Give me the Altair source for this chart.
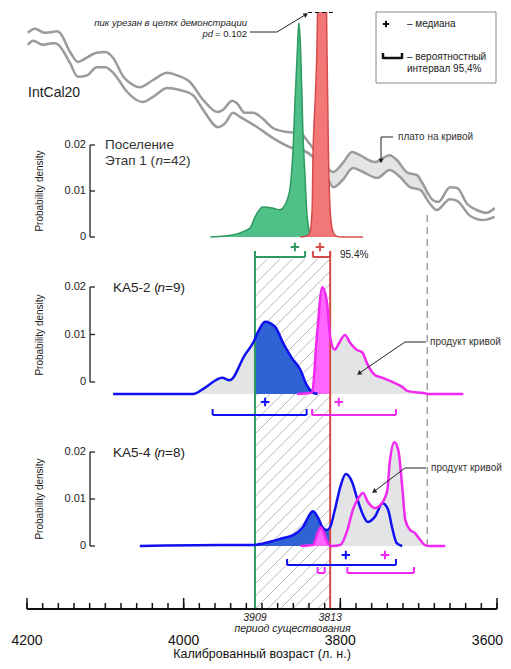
import altair as alt
import numpy as np
import pandas as pd

# ============================== DATA ==============================
# IntCal20 band: calendar age (cal BP) -> radiocarbon age (14C BP)
intcal_upper_year = [4199, 4190, 4177, 4167, 4162, 4158, 4145, 4135, 4129, 4111, 4100, 4090,
                     4077, 4065, 4056, 4039, 4021, 4009, 3992, 3975, 3957, 3950, 3938, 3932,
                     3922, 3911, 3900, 3886, 3868, 3851, 3843, 3835, 3822, 3809, 3797, 3785,
                     3775, 3756, 3737, 3728, 3714, 3702, 3696, 3682, 3675, 3660, 3651, 3638,
                     3626, 3613, 3603]
intcal_upper_c14 = [3808, 3818, 3808, 3810, 3812, 3808, 3760, 3735, 3740, 3758, 3760, 3745,
                    3698, 3678, 3672, 3690, 3708, 3702, 3685, 3640, 3610, 3615, 3638, 3632,
                    3608, 3608, 3595, 3570, 3560, 3558, 3540, 3520, 3482, 3460, 3482, 3510,
                    3502, 3485, 3502, 3490, 3458, 3452, 3435, 3390, 3385, 3422, 3420, 3380,
                    3365, 3358, 3370]
intcal_lower_year = [4199, 4192, 4180, 4168, 4164, 4160, 4145, 4135, 4123, 4111, 4100, 4090,
                     4072, 4060, 4052, 4039, 4021, 4005, 3988, 3975, 3956, 3947, 3937, 3928,
                     3906, 3886, 3864, 3848, 3835, 3817, 3809, 3797, 3784, 3771, 3753, 3737,
                     3724, 3711, 3698, 3686, 3677, 3660, 3651, 3634, 3618, 3603]
intcal_lower_c14 = [3778, 3788, 3778, 3782, 3782, 3778, 3732, 3698, 3702, 3722, 3722, 3708,
                    3660, 3640, 3635, 3648, 3670, 3665, 3652, 3615, 3572, 3582, 3608, 3598,
                    3572, 3545, 3522, 3515, 3498, 3448, 3422, 3440, 3470, 3460, 3445, 3465,
                    3448, 3422, 3415, 3382, 3365, 3392, 3388, 3350, 3340, 3348]
plateau_range = [3813, 3689]

# Settlement, stage 1 (n=42): start (green) and end (red) boundaries
start_year = [3966, 3947, 3928, 3915, 3909, 3899, 3887, 3877, 3872, 3867, 3864, 3860,
              3858, 3855, 3853, 3851, 3849, 3848, 3845, 3843, 3840, 3837, 3836]
start_dens = [0, 0.0002, 0.0009, 0.002, 0.0043, 0.0065, 0.0063, 0.0059, 0.0066, 0.0085, 0.0109, 0.0204,
              0.029, 0.040, 0.0465, 0.042, 0.031, 0.024, 0.013, 0.0059, 0.0015, 0.0002, 0]
end_year = [3851, 3843, 3839, 3836, 3835, 3832, 3830, 3827, 3823, 3819, 3817, 3815,
            3813, 3810, 3806, 3800, 3771]
end_dens = [0, 0.0002, 0.0008, 0.0059, 0.0167, 0.030, 0.040, 0.07, 0.102, 0.07, 0.040, 0.0167,
            0.0059, 0.0015, 0.0003, 0, 0]

# KA5-2 (n=9)
ka52_start_year = [4090, 3988, 3973, 3951, 3941, 3922, 3911, 3905, 3896, 3883, 3873, 3862,
                   3851, 3843, 3836, 3829]
ka52_start_dens = [0, 0, 0.0013, 0.0034, 0.0029, 0.0082, 0.0109, 0.0131, 0.0152, 0.0141, 0.0107, 0.0076,
                   0.0051, 0.0019, 0.0004, 0]
ka52_end_year = [3855, 3839, 3836, 3830, 3823, 3817, 3813, 3807, 3803, 3794, 3788, 3779,
                 3772, 3766, 3756, 3746, 3733, 3721, 3714, 3694, 3686, 3643]
ka52_end_dens = [0, 0.0002, 0.0004, 0.0120, 0.0225, 0.0192, 0.0120, 0.0093, 0.0103, 0.0124, 0.0109, 0.0093,
                 0.0088, 0.0065, 0.0040, 0.0034, 0.0025, 0.0015, 0.0006, 0.0002, 0, 0]

# KA5-4 (n=8)
ka54_start_year = [4056, 3954, 3911, 3890, 3873, 3860, 3848, 3835, 3829, 3822, 3817, 3813,
                   3807, 3800, 3793, 3785, 3779, 3771, 3765, 3756, 3746, 3739, 3734, 3728, 3721]
ka54_start_dens = [0, 0.0002, 0.0002, 0.0009, 0.0017, 0.0023, 0.0040, 0.0074, 0.0062, 0.0038, 0.0034, 0.0040,
                   0.0077, 0.0126, 0.0153, 0.0136, 0.0104, 0.0066, 0.0051, 0.0062, 0.0091, 0.0077, 0.0040,
                   0.0006, 0]
ka54_end_year = [3851, 3835, 3829, 3825, 3821, 3816, 3811, 3800, 3791, 3784, 3777, 3771,
                 3765, 3756, 3747, 3740, 3737, 3731, 3726, 3721, 3717, 3711, 3705, 3698, 3692, 3686, 3666]
ka54_end_dens = [0, 0.0002, 0.0028, 0.0040, 0.0028, 0.0006, 0, 0.0002, 0.0034, 0.0077, 0.0102, 0.0113,
                 0.0094, 0.0081, 0.0091, 0.0119, 0.0177, 0.0221, 0.0204, 0.0126, 0.0055, 0.0034, 0.0028,
                 0.0013, 0.0002, 0, 0]

# medians and 95.4% intervals
median_panel = [1, 1, 2, 2, 3, 3]
median_series = ["start", "end", "start", "end", "start", "end"]
median_year = [3858, 3826, 3896, 3802, 3793, 3743]
interval_panel = [1, 1, 2, 2, 3, 3, 3]
interval_series = ["start", "end", "start", "end", "start", "end", "end"]
interval_from = [3909, 3835, 3963, 3836, 3868, 3829, 3791]
interval_to = [3845, 3813, 3843, 3729, 3729, 3820, 3706]

period = [3909, 3813]          # period of existence
cut_line_year = 3689           # dashed guide at the end of the plateau
peak_cut_label = "0.102"

density_ticks = [0, 0.01, 0.02]
density_tick_labels = ["0", "0.01", "0.02"]
major_years = [4200, 4000, 3800, 3600]
minor_step = 20

# ============================== LAYOUT / STYLE ==============================
FONT = "Liberation Sans"
W, H = 470, 596
LEFT, TOP = 27, 12
BOT = TOP + H
PX_PER_YEAR = W / (major_years[0] - major_years[-1])

C_GREEN_F, C_GREEN_S = "#4fc088", "#2e9a60"
C_RED_F, C_RED_S = "#f27777", "#d64a4a"
C_BLUE_L, C_BLUE_F = "#1010f0", "#2f62d4"
C_MAG_L, C_MAG_F = "#f028f0", "#ff66ff"
C_GRAY_F = "#e3e4e6"
C_CURVE = "#9b9b9b"
TXT = "#222222"

series_colors = {(1, "start"): C_GREEN_S, (1, "end"): C_RED_S,
                 (2, "start"): C_BLUE_L, (2, "end"): C_MAG_L,
                 (3, "start"): C_BLUE_L, (3, "end"): C_MAG_L}
median_py = {1: 247, 2: 402, 3: 555}
interval_py = {(1, "start"): 257, (1, "end"): 257, (2, "start"): 415, (2, "end"): 415,
               (3, "start"): 565, (3, "end"): 573}

ONE = pd.DataFrame({"k": [0]})


def X(f):
    return alt.X(f, type="quantitative", scale=alt.Scale(domain=[4200, 3600], nice=False, zero=False), axis=None)


def PX(f):
    return alt.X(f, type="quantitative", scale=alt.Scale(domain=[LEFT, LEFT + W], nice=False, zero=False), axis=None)


def PY(f):
    return alt.Y(f, type="quantitative", scale=alt.Scale(domain=[TOP, BOT], reverse=True, nice=False, zero=False), axis=None)


def lin(base, k):
    d0 = (base - BOT) / k
    return alt.Scale(domain=[d0, d0 + H / k], nice=False, zero=False)


def DY(f, sc):
    return alt.Y(f, type="quantitative", scale=sc, axis=None)


S1 = lin(237, 4600)
S2 = lin(394, 4750)
S2A = lin(382, 4750)
S3 = lin(546, 4700)
SIC = lin(1556, 0.4)


def cdf(years, vals):
    return pd.DataFrame({"year": list(years), "d": list(vals), "z": 0.0})


def sub(years, vals, lo, hi):
    yrs = np.array(years[::-1], dtype=float)
    v = np.array(vals[::-1], dtype=float)
    a, b = max(lo, yrs.min()), min(hi, yrs.max())
    grid = np.unique(np.concatenate([[a, b], yrs[(yrs > a) & (yrs < b)]]))
    return cdf(grid, np.interp(grid, yrs, v))


def area(df, sc, color, clip=False):
    return alt.Chart(df).mark_area(color=color, opacity=1, interpolate="monotone", clip=clip).encode(
        x=X("year"), y=DY("d", sc), y2=alt.Y2("z"))


def line(df, sc, color, width, clip=False):
    return alt.Chart(df).mark_line(color=color, strokeWidth=width, interpolate="monotone", clip=clip).encode(
        x=X("year"), y=DY("d", sc))


def T(s, px, py, size=10, align="left", style="normal", color=TXT, angle=0, baseline="middle"):
    kw = dict(text=s, font=FONT, fontSize=size, align=align, baseline=baseline, color=color, fontStyle=style)
    if angle:
        kw["angle"] = angle
    return alt.Chart(ONE).mark_text(**kw).encode(x=alt.value(px - LEFT), y=alt.value(py - TOP))


def poly(pts, color=TXT, width=1.0):
    df = pd.DataFrame({"px": [p[0] for p in pts], "py": [p[1] for p in pts], "o": list(range(len(pts)))})
    return alt.Chart(df).mark_line(color=color, strokeWidth=width).encode(x=PX("px"), y=PY("py"), order="o:Q")


def head(px, py, angle, color=TXT):
    return alt.Chart(ONE).mark_point(shape="triangle-up", filled=True, size=28, angle=angle, color=color,
                                     opacity=1).encode(x=alt.value(px - LEFT), y=alt.value(py - TOP))


def prule(x1, y1, x2, y2, color=TXT, width=1.0, dash=None):
    kw = dict(color=color, strokeWidth=width)
    if dash:
        kw["strokeDash"] = dash
    return alt.Chart(ONE).mark_rule(**kw).encode(
        x=alt.value(x1 - LEFT), x2=alt.value(x2 - LEFT), y=alt.value(y1 - TOP), y2=alt.value(y2 - TOP))


PLUS = "M-1,0L1,0M0,-1L0,1"
layers = []

# ---------- hatch of the period of existence ----------
hatch_top, hatch_bot = 259, 609
span = (period[0] - period[1]) * PX_PER_YEAR
rows = []
for s in np.arange(-(hatch_bot - hatch_top), span, 12.5):
    t0 = max(0.0, -s)
    t1 = min(span - s, hatch_bot - hatch_top)
    if t1 > t0:
        rows.append(dict(x1=period[0] - (s + t0) / PX_PER_YEAR, x2=period[0] - (s + t1) / PX_PER_YEAR,
                         y1=hatch_bot - t0, y2=hatch_bot - t1))
layers.append(alt.Chart(pd.DataFrame(rows)).mark_rule(color="#a5a5a5", strokeWidth=0.8).encode(
    x=X("x1"), x2="x2", y=PY("y1"), y2="y2"))

# ---------- IntCal20 band ----------
uy, uc = np.array(intcal_upper_year[::-1], float), np.array(intcal_upper_c14[::-1], float)
ly, lc = np.array(intcal_lower_year[::-1], float), np.array(intcal_lower_c14[::-1], float)
g = np.arange(plateau_range[1], plateau_range[0] + 1, 2.0)
plat = pd.DataFrame({"year": g, "hi": np.interp(g, uy, uc), "lo": np.interp(g, ly, lc)})
layers.append(alt.Chart(plat).mark_area(color=C_GRAY_F, opacity=1, interpolate="monotone").encode(
    x=X("year"), y=DY("hi", SIC), y2="lo"))
for yy, cc in [(intcal_upper_year, intcal_upper_c14), (intcal_lower_year, intcal_lower_c14)]:
    layers.append(alt.Chart(pd.DataFrame({"year": yy, "c": cc})).mark_line(
        color=C_CURVE, strokeWidth=2.5, interpolate="monotone").encode(x=X("year"), y=DY("c", SIC)))

# dashed guide
layers.append(alt.Chart(pd.DataFrame({"year": [cut_line_year]})).mark_rule(
    color="#a0a0a0", strokeWidth=1.5, strokeDash=[7, 5]).encode(
    x=X("year"), y=alt.value(215 - TOP), y2=alt.value(550 - TOP)))

# ---------- panel 1 ----------
layers.append(area(cdf(start_year, start_dens), S1, C_GREEN_F))
layers.append(line(cdf(start_year, start_dens), S1, C_GREEN_S, 1.5))
layers.append(area(cdf(end_year, end_dens), S1, C_RED_F, clip=True))
layers.append(line(cdf(end_year, end_dens), S1, C_RED_S, 1.5, clip=True))
layers.append(prule(308, 12.5, 335, 12.5, color="#111", width=1.2, dash=[4, 3]))

# ---------- panels 2 & 3: grey product, coloured part inside the period ----------
p2b, p2m = (ka52_start_year, ka52_start_dens), (ka52_end_year, ka52_end_dens)
p3b, p3m = (ka54_start_year, ka54_start_dens), (ka54_end_year, ka54_end_dens)
for (yy, dd), sc in [(p2b, S2), (p2m, S2), (p3b, S3), (p3m, S3)]:
    layers.append(area(cdf(yy, dd), sc, C_GRAY_F))
for (yy, dd), sc, col in [(p2b, S2, C_BLUE_F), (p2m, S2, C_MAG_F), (p3b, S3, C_BLUE_F), (p3m, S3, C_MAG_F)]:
    layers.append(area(sub(yy, dd, period[1], period[0]), sc, col))

# period boundary lines
layers.append(alt.Chart(pd.DataFrame({"year": [period[0]]})).mark_rule(color=C_GREEN_S, strokeWidth=2).encode(
    x=X("year"), y=alt.value(257 - TOP), y2=alt.value(609 - TOP)))
layers.append(alt.Chart(pd.DataFrame({"year": [period[1]]})).mark_rule(color=C_RED_S, strokeWidth=2).encode(
    x=X("year"), y=alt.value(251 - TOP), y2=alt.value(609 - TOP)))

for (yy, dd), sc, col in [(p2b, S2, C_BLUE_L), (p2m, S2, C_MAG_L), (p3b, S3, C_BLUE_L), (p3m, S3, C_MAG_L)]:
    layers.append(line(cdf(yy, dd), sc, col, 2.5))

# ---------- medians and intervals ----------
med = pd.DataFrame({"year": median_year,
                    "py": [median_py[p] for p in median_panel],
                    "col": [series_colors[(p, s)] for p, s in zip(median_panel, median_series)]})
layers.append(alt.Chart(med).mark_point(shape=PLUS, filled=False, size=72, strokeWidth=2, opacity=1).encode(
    x=X("year"), y=PY("py"), color=alt.Color("col:N", scale=None)))
iv = pd.DataFrame({"a": interval_from, "b": interval_to,
                   "py": [interval_py[(p, s)] for p, s in zip(interval_panel, interval_series)],
                   "col": [series_colors[(p, s)] for p, s in zip(interval_panel, interval_series)]})
iv["top"] = iv["py"] - 6
layers.append(alt.Chart(iv).mark_rule(strokeWidth=2).encode(
    x=X("a"), x2="b", y=PY("py"), color=alt.Color("col:N", scale=None)))
for end in ["a", "b"]:
    layers.append(alt.Chart(iv).mark_rule(strokeWidth=2).encode(
        x=X(end), y=PY("py"), y2="top", color=alt.Color("col:N", scale=None)))
layers.append(T("95.4%", 340, 255, size=10))

# ---------- density axes ----------
for sc, ptitle in [(S1, 191), (S2A, 335), (S3, 499)]:
    dfa = pd.DataFrame({"v": density_ticks, "lab": density_tick_labels})
    layers.append(alt.Chart(pd.DataFrame({"a": [density_ticks[0]], "b": [density_ticks[-1]]})).mark_rule(
        color=TXT, strokeWidth=1.3).encode(x=alt.value(90 - LEFT), y=DY("a", sc), y2="b"))
    layers.append(alt.Chart(dfa).mark_rule(color=TXT, strokeWidth=1.3).encode(
        x=alt.value(90 - LEFT), x2=alt.value(95 - LEFT), y=DY("v", sc)))
    layers.append(alt.Chart(dfa).mark_text(align="right", baseline="middle", font=FONT, fontSize=11,
                                           color=TXT).encode(x=alt.value(86 - LEFT), y=DY("v", sc), text="lab:N"))
    layers.append(T("Probability density", 40, ptitle, size=10, align="center", angle=270))

# ---------- panel titles ----------
layers += [T("Поселение", 105, 145, size=13.5, color="#333"),
           T("Этап 1 (", 105, 161, size=13.5, color="#333"),
           T("n", 155.5, 161, size=13.5, style="italic", color="#333"),
           T("=42)", 163, 161, size=13.5, color="#333"),
           T("KA5-2 (", 113, 288, size=13.5),
           T("n", 157.5, 288, size=13.5, style="italic"),
           T("=9)", 165, 288, size=13.5),
           T("KA5-4 (", 113, 453, size=13.5),
           T("n", 157.5, 453, size=13.5, style="italic"),
           T("=8)", 165, 453, size=13.5),
           T("IntCal20", 28, 93, size=14)]

# ---------- annotations ----------
layers += [T("пик урезан в целях демонстрации", 247, 23, size=9.5, align="right", style="italic"),
           T("= " + peak_cut_label, 247, 34, size=9.5, align="right"),
           T("pd", 213, 34, size=9.5, align="right", style="italic"),
           poly([(250, 32), (277, 32), (305, 15)]),
           head(306, 14.5, 59),
           T("плато на кривой", 398, 137, size=10, color="#333"),
           poly([(393, 137), (381, 137), (381, 159)]),
           head(381, 161, 180),
           T("продукт кривой", 430, 342, size=10, color="#333"),
           poly([(426, 342), (405, 342), (361, 372)]),
           head(359, 373.5, 235),
           T("продукт кривой", 431, 468, size=10, color="#333"),
           poly([(426, 468), (405, 468), (376, 490)]),
           head(374, 491.5, 233)]

# ---------- legend box ----------
layers += [alt.Chart(ONE).mark_rect(fill="white", stroke="#8a8a8a", strokeWidth=1).encode(
               x=alt.value(376 - LEFT), x2=alt.value(496 - LEFT), y=alt.value(12 - TOP), y2=alt.value(83 - TOP)),
           alt.Chart(ONE).mark_point(shape=PLUS, filled=False, size=40, strokeWidth=2, color="#111",
                                     opacity=1).encode(x=alt.value(386 - LEFT), y=alt.value(24 - TOP)),
           T("– медиана", 407, 24, size=10),
           prule(383, 58, 402, 58, color="#111", width=2.5),
           prule(383, 53, 383, 59, color="#111", width=2.5),
           prule(402, 53, 402, 59, color="#111", width=2.5),
           T("– вероятностный", 407, 57, size=10),
           T("интервал 95,4%", 407, 69, size=10)]

# ---------- calendar axis ----------
layers.append(alt.Chart(pd.DataFrame({"a": [major_years[0]], "b": [major_years[-1]]})).mark_rule(
    color="#111", strokeWidth=2).encode(x=X("a"), x2="b", y=alt.value(609 - TOP)))
minor = pd.DataFrame({"year": np.arange(major_years[-1], major_years[0] + 1, minor_step)})
layers.append(alt.Chart(minor).mark_rule(color="#111", strokeWidth=1.5).encode(
    x=X("year"), y=alt.value(603 - TOP), y2=alt.value(609 - TOP)))
majors = pd.DataFrame({"year": major_years, "lab": [str(v) for v in major_years]})
layers.append(alt.Chart(majors).mark_rule(color="#111", strokeWidth=1.5).encode(
    x=X("year"), y=alt.value(598 - TOP), y2=alt.value(609 - TOP)))
layers.append(alt.Chart(majors.iloc[:-1]).mark_text(font=FONT, fontSize=14, color="#111", baseline="middle").encode(
    x=X("year"), y=alt.value(641 - TOP), text="lab:N"))
layers.append(alt.Chart(majors.iloc[-1:]).mark_text(font=FONT, fontSize=14, color="#111", baseline="middle",
                                                    align="right", dx=6).encode(
    x=X("year"), y=alt.value(641 - TOP), text="lab:N"))
per = pd.DataFrame({"year": period, "lab": [str(v) for v in period]})
layers.append(alt.Chart(per).mark_text(font=FONT, fontSize=10.5, fontStyle="italic", color=TXT,
                                       baseline="middle").encode(x=X("year"), y=alt.value(618 - TOP), text="lab:N"))
layers.append(alt.Chart(pd.DataFrame({"year": [sum(period) / 2]})).mark_text(
    text="период существования", font=FONT, fontSize=10.5, fontStyle="italic", color=TXT,
    baseline="middle").encode(x=X("year"), y=alt.value(628.5 - TOP)))
layers.append(T("Калиброванный возраст (л. н.)", 262, 661, size=12.5, align="center", color="#111",
                baseline="bottom"))

chart = alt.layer(*layers).resolve_scale(x="independent", y="independent").properties(
    width=W, height=H,
    padding={"left": 19, "top": 4, "right": 6, "bottom": 53},
    autosize=alt.AutoSizeParams(type="none"),
    background="white",
).configure_view(strokeWidth=0)

chart.save("out.html", embed_options={"renderer": "svg", "actions": False})
